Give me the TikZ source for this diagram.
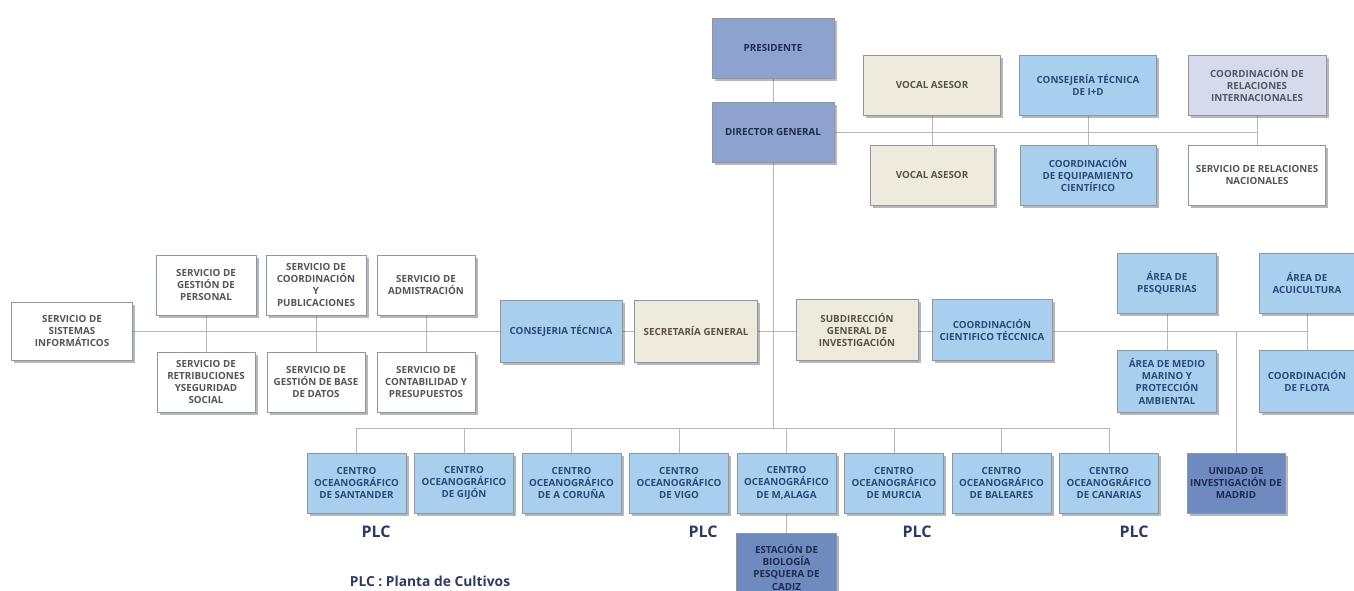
\documentclass[tikz,border=0pt]{standalone}
\usepackage{fontspec}
\setmainfont{Open Sans}
\usetikzlibrary{shadows}
\pgfdeclarelayer{background}
\pgfsetlayers{background,main}
\definecolor{lnc}{HTML}{B8B8B8}
\definecolor{boxline}{HTML}{8E96A3}
\definecolor{presfill}{HTML}{8DA2CF}
\definecolor{prestext}{HTML}{1E2B50}
\definecolor{lbfill}{HTML}{A9CFEE}
\definecolor{lbtext}{HTML}{2B4A7A}
\definecolor{crfill}{HTML}{EFEBDC}
\definecolor{crtext}{HTML}{5A5242}
\definecolor{lvfill}{HTML}{D7DAEA}
\definecolor{lvtext}{HTML}{505868}
\definecolor{wttext}{HTML}{555555}
\definecolor{dkfill}{HTML}{6F8ABF}
\definecolor{dktext}{HTML}{1E2B50}
\definecolor{plctext}{HTML}{2F3A60}
\tikzset{
  base/.style={rectangle, draw=boxline, line width=0.6pt, align=center, inner sep=1pt,
    font=\bfseries\fontsize{9.8}{12.3}\selectfont,
    drop shadow={shadow xshift=2.5pt, shadow yshift=-2.5pt, opacity=0.4, fill=black!70}},
  presbox/.style={base, fill=presfill, text=prestext},
  lbbox/.style={base, fill=lbfill, text=lbtext},
  crbox/.style={base, fill=crfill, text=crtext},
  lvbox/.style={base, fill=lvfill, text=lvtext},
  wtbox/.style={base, fill=white, text=wttext},
  dkbox/.style={base, fill=dkfill, text=dktext},
  conn/.style={draw=lnc, line width=1pt},
  plc/.style={font=\bfseries\fontsize{16}{18}\selectfont, text=plctext},
  legend/.style={font=\bfseries\fontsize{13.8}{16}\selectfont, text=plctext},
  sz/.style 2 args={minimum width=#1pt, minimum height=#2pt}
}
\begin{document}
\begin{tikzpicture}[x=1pt,y=-1pt]
\useasboundingbox (0,0) rectangle (1354,590);
\clip (0,0) rectangle (1354,590);
% top
\node[presbox, sz={122}{60}] (pres) at (773,48) {PRESIDENTE};
\node[presbox, sz={122}{60}] (dg) at (773,132) {DIRECTOR GENERAL};
\node[crbox, sz={137}{60}] (va1) at (932,85) {VOCAL ASESOR};
\node[lbbox, sz={137}{60}] (cid) at (1088,85) {CONSEJERÍA TÉCNICA\\DE I+D};
\node[lvbox, sz={138}{60}] (cri) at (1257,85) {COORDINACIÓN DE\\RELACIONES\\INTERNACIONALES};
\node[crbox, sz={124}{60}] (va2) at (932,175) {VOCAL ASESOR};
\node[lbbox, sz={136}{60}] (ceq) at (1088,175) {COORDINACIÓN\\DE EQUIPAMIENTO\\CIENTÍFICO};
\node[wtbox, sz={137}{60}] (srn) at (1257,175) {SERVICIO DE RELACIONES\\NACIONALES};
% middle left
\node[wtbox, sz={121}{58}] (sis) at (72,331) {SERVICIO DE\\SISTEMAS\\INFORMÁTICOS};
\node[wtbox, sz={100}{60}] (per) at (206,285) {SERVICIO DE\\GESTIÓN DE\\PERSONAL};
\node[wtbox, sz={100}{60}] (cpu) at (316,285) {SERVICIO DE\\COORDINACIÓN\\Y\\PUBLICACIONES};
\node[wtbox, sz={98}{60}] (adm) at (426,285) {SERVICIO DE\\ADMISTRACIÓN};
\node[wtbox, sz={98}{60}] (ret) at (206,382) {SERVICIO DE\\RETRIBUCIONES\\YSEGURIDAD\\SOCIAL};
\node[wtbox, sz={98}{60}] (bdd) at (316,382) {SERVICIO DE\\GESTIÓN DE BASE\\DE DATOS};
\node[wtbox, sz={98}{60}] (con) at (426,382) {SERVICIO DE\\CONTABILIDAD Y\\PRESUPUESTOS};
% middle centre
\node[lbbox, sz={122}{62}] (ctec) at (561,331) {CONSEJERIA TÉCNICA};
\node[crbox, sz={123}{62}] (sg) at (696,331) {SECRETARÍA GENERAL};
\node[crbox, sz={122}{61}] (sub) at (857,330) {SUBDIRECCIÓN\\GENERAL DE\\INVESTIGACIÓN};
\node[lbbox, sz={120}{61}] (cct) at (992,330) {COORDINACIÓN\\CIENTIFICO TÉCCNICA};
% middle right
\node[lbbox, sz={99}{60}] (pes) at (1167,283) {ÁREA DE\\PESQUERIAS};
\node[lbbox, sz={99}{62}] (med) at (1167,381) {ÁREA DE MEDIO\\MARINO Y\\PROTECCIÓN\\AMBIENTAL};
\node[lbbox, sz={96}{60}] (acu) at (1307,283) {ÁREA DE\\ACUICULTURA};
\node[lbbox, sz={96}{62}] (flo) at (1307,381) {COORDINACIÓN\\DE FLOTA};
% centres
\node[lbbox, sz={99}{60}] (c1) at (356.5,483) {CENTRO\\OCEANOGRÁFICO\\DE SANTANDER};
\node[lbbox, sz={99}{60}] (c2) at (464,483) {CENTRO\\OCEANOGRÁFICO\\DE GIJÓN};
\node[lbbox, sz={99}{60}] (c3) at (571.5,483) {CENTRO\\OCEANOGRÁFICO\\DE A CORUÑA};
\node[lbbox, sz={99}{60}] (c4) at (679,483) {CENTRO\\OCEANOGRÁFICO\\DE VIGO};
\node[lbbox, sz={99}{60}] (c5) at (786.5,483) {CENTRO\\OCEANOGRÁFICO\\DE M,ALAGA};
\node[lbbox, sz={99}{60}] (c6) at (894,483) {CENTRO\\OCEANOGRÁFICO\\DE MURCIA};
\node[lbbox, sz={99}{60}] (c7) at (1001.5,483) {CENTRO\\OCEANOGRÁFICO\\DE BALEARES};
\node[lbbox, sz={99}{60}] (c8) at (1109,483) {CENTRO\\OCEANOGRÁFICO\\DE CANARIAS};
\node[dkbox, sz={98}{60}] (uni) at (1236,483) {UNIDAD DE\\INVESTIGACIÓN DE\\MADRID};
\node[dkbox, sz={100}{68}, anchor=north] (est) at (786.5,533) {ESTACIÓN DE\\BIOLOGÍA\\PESQUERA DE\\CADIZ};
% labels
\node[plc] (p1) at (376,532) {PLC};
\node[plc] (p2) at (703,532) {PLC};
\node[plc] (p3) at (917,532) {PLC};
\node[plc] (p4) at (1134,532) {PLC};
\node[legend] (leg) at (430,581) {PLC : Planta de Cultivos};
% coordinates
\coordinate (topend) at (1257,132);
\coordinate (midend) at (1307,331);
\coordinate (unitop) at (1236,331);
\coordinate (busm) at (773,428);
\begin{pgfonlayer}{background}
\draw[conn] (pres) -- (dg);
\draw[conn] (dg.east) -- (topend);
\draw[conn] (va1) -- (va2);
\draw[conn] (cid) -- (ceq);
\draw[conn] (cri) -- (srn);
\draw[conn] (sis.east) -- (midend);
\draw[conn] (per) -- (ret);
\draw[conn] (cpu) -- (bdd);
\draw[conn] (adm) -- (con);
\draw[conn] (pes) -- (med);
\draw[conn] (acu) -- (flo);
\draw[conn] (unitop) -- (uni);
\draw[conn] (dg) -- (busm);
\foreach \c in {c1,c2,c3,c4,c5,c6,c7,c8} { \draw[conn] (\c.north) |- (busm); }
\draw[conn] (c5) -- (est);
\end{pgfonlayer}
\end{tikzpicture}
\end{document}
